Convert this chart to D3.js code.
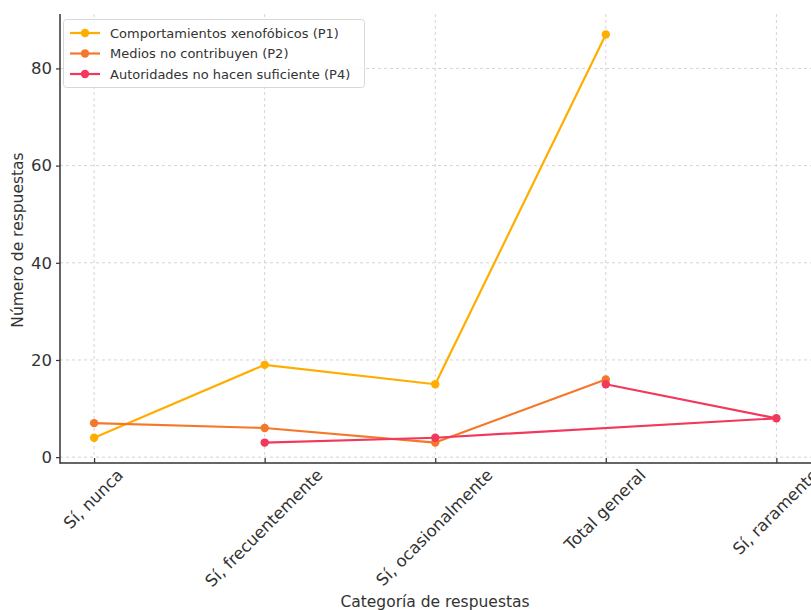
<!DOCTYPE html>
<html><head><meta charset="utf-8">
<script src="https://cdn.jsdelivr.net/npm/d3@7"></script>
<style>
html,body{margin:0;padding:0;background:#fff;}
svg{display:block;font-family:"DejaVu Sans",sans-serif;}
</style></head>
<body><svg id="c" width="811" height="610"></svg>
<script>
const categories = ["Sí, nunca", "Sí, frecuentemente", "Sí, ocasionalmente", "Total general", "Sí, raramente"];
const p1Cats = ["Sí, nunca", "Sí, frecuentemente", "Sí, ocasionalmente", "Total general"];
const p1Vals = [4, 19, 15, 87];
const p2Cats = ["Sí, nunca", "Sí, frecuentemente", "Sí, ocasionalmente", "Total general"];
const p2Vals = [7, 6, 3, 16];
const p4Cats = ["Sí, frecuentemente", "Sí, ocasionalmente", "Sí, raramente", "Total general"];
const p4Vals = [3, 4, 8, 15];
const seriesNames = ["Comportamientos xenofóbicos (P1)", "Medios no contribuyen (P2)", "Autoridades no hacen suficiente (P4)"];
const yTicks = [0, 20, 40, 60, 80];
const xLabel = "Categoría de respuestas";
const yLabel = "Número de respuestas";

const colors = ["#FFAE00", "#F5782A", "#F2385C"];
const series = [
  {name: seriesNames[0], cats: p1Cats, vals: p1Vals, color: colors[0]},
  {name: seriesNames[1], cats: p2Cats, vals: p2Vals, color: colors[1]},
  {name: seriesNames[2], cats: p4Cats, vals: p4Vals, color: colors[2]}
];

const svg = d3.select("#c");
const pL = 60, pR = 810.5, pT = 14, pB = 463;
const x = d3.scalePoint().domain(categories).range([pL, pR]).padding(0.2);
const y = d3.scaleLinear().domain([-1.2, 91.2]).range([pB, pT]);

// grid
const grid = svg.append("g");
grid.selectAll("line.vx").data(categories).join("line")
  .attr("x1", d => x(d)).attr("x2", d => x(d)).attr("y1", pT).attr("y2", pB)
  .attr("stroke", "#d4d4d4").attr("stroke-width", 1).attr("stroke-dasharray", "3,3");
grid.selectAll("line.hy").data(yTicks).join("line")
  .attr("x1", pL).attr("x2", 811).attr("y1", d => y(d)).attr("y2", d => y(d))
  .attr("stroke", "#d4d4d4").attr("stroke-width", 1).attr("stroke-dasharray", "3,3");

// axes
const yAxis = svg.append("g").attr("transform", `translate(${pL},0)`)
  .call(d3.axisLeft(y).tickValues(yTicks).tickSize(4).tickPadding(4));
yAxis.select(".domain").remove();
yAxis.selectAll("line").attr("stroke", "#333").attr("stroke-width", 1.2);
yAxis.selectAll("text").attr("font-size", 16.5).attr("fill", "#333").attr("font-family", "DejaVu Sans");

const xAxis = svg.append("g").attr("transform", `translate(0,${pB})`)
  .call(d3.axisBottom(x).tickSize(-5).tickFormat(""));
xAxis.select(".domain").remove();
xAxis.selectAll("line").attr("stroke", "#333").attr("stroke-width", 1.2);

// x tick labels rotated
const xl = svg.append("g");
xl.selectAll("text").data(categories).join("text")
  .attr("font-size", 16.5).attr("fill", "#333")
  .attr("text-anchor", "end")
  .text(d => d)
  .each(function(d) {
    const L = this.getComputedTextLength();
    const w = L * Math.SQRT1_2;
    const cx = x(d) + w / 2 - 5;
    const cy = 468;
    d3.select(this).attr("transform", `translate(${cx},${cy}) rotate(-45)`).attr("dy", "0.7em");
  });

// spines
svg.append("line").attr("x1", pL).attr("x2", pL).attr("y1", pT).attr("y2", pB + 0.75)
  .attr("stroke", "#333").attr("stroke-width", 1.5);
svg.append("line").attr("x1", pL).attr("x2", 811).attr("y1", pB).attr("y2", pB)
  .attr("stroke", "#333").attr("stroke-width", 1.5);

// axis labels
svg.append("text").attr("x", 435).attr("y", 607).attr("text-anchor", "middle")
  .attr("font-size", 15.5).attr("fill", "#333").text(xLabel);
svg.append("text").attr("transform", `translate(23,240) rotate(-90)`).attr("text-anchor", "middle")
  .attr("font-size", 15.5).attr("fill", "#333").text(yLabel);

// lines
const line = d3.line().x(d => x(d[0])).y(d => y(d[1]));
series.forEach(s => {
  const pts = s.cats.map((c, i) => [c, s.vals[i]]);
  const g = svg.append("g");
  g.append("path").datum(pts).attr("d", line).attr("fill", "none")
    .attr("stroke", s.color).attr("stroke-width", 2.2).attr("stroke-linejoin", "round");
  g.selectAll("circle").data(pts).join("circle")
    .attr("cx", d => x(d[0])).attr("cy", d => y(d[1])).attr("r", 4.2).attr("fill", s.color);
});

// legend
const lg = svg.append("g");
lg.append("rect").attr("x", 63.5).attr("y", 19.5).attr("width", 301).attr("height", 68).attr("rx", 3)
  .attr("fill", "#fff").attr("fill-opacity", 0.85).attr("stroke", "#d8d8d8");
series.forEach((s, i) => {
  const yy = 33 + i * 20.5;
  lg.append("line").attr("x1", 70).attr("x2", 100).attr("y1", yy).attr("y2", yy)
    .attr("stroke", s.color).attr("stroke-width", 2.2);
  lg.append("circle").attr("cx", 85).attr("cy", yy).attr("r", 4.2).attr("fill", s.color);
  lg.append("text").attr("x", 110).attr("y", yy).attr("dy", "0.35em")
    .attr("font-size", 13).attr("fill", "#333").text(s.name);
});
</script></body></html>
